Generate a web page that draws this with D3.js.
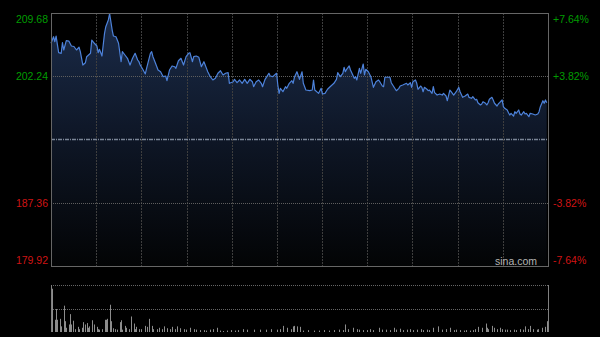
<!DOCTYPE html>
<html>
<head>
<meta charset="utf-8">
<script src="https://cdn.jsdelivr.net/npm/d3@7/dist/d3.min.js"></script>
<style>
  body { margin: 0; background: #000; }
  svg { display: block; font-family: "Liberation Sans", Arial, sans-serif; }
</style>
</head>
<body>
<svg id="chart" width="600" height="337"></svg>
<script>
// intraday minute chart, 390 trading minutes
const prevClose = 194.80;
const priceTicks = [209.68, 202.24, 187.36, 179.92];
const tradingMinutes = 390;
const gridDivisions = 11;
const volumeMax = 100;

// [minute, price]
const priceData = [
  [0,206.12],[2,206.89],[3,206.30],[4,206.97],[6,205.01],[8,204.94],[9,206.19],[10,205.33],[12,206.42],[14,206.38],
  [16,205.80],[18,205.74],[20,205.33],[22,205.65],[23,205.13],[25,203.56],[27,203.83],[28,204.54],[31,204.94],[32,206.50],
  [34,206.12],[36,205.80],[37,205.01],[38,205.41],[40,204.62],[42,207.29],[43,208.07],[45,208.86],[46,209.62],[48,207.68],
  [49,206.97],[51,206.89],[53,206.12],[55,203.95],[56,205.13],[58,204.74],[60,204.35],[62,203.56],[64,204.35],[66,204.94],
  [68,204.15],[69,203.95],[70,203.56],[72,203.06],[74,202.51],[75,203.17],[78,204.94],
  [79,205.13],[80,204.54],[82,203.76],[84,202.97],[86,202.77],[88,202.19],[90,202.27],[91,201.72],[93,202.97],[95,203.45],
  [97,203.36],[98,203.17],[100,204.07],[102,204.35],[103,203.95],[104,203.56],[106,204.54],[108,204.94],[109,205.01],[111,203.95],
  [112,204.54],[114,204.62],[116,204.47],[118,203.36],[120,203.95],[122,203.17],[123,202.77],[125,202.19],[127,201.80],[129,202.00],
  [131,202.59],[133,202.89],[135,202.39],[137,202.59],[139,202.66],[140,201.41],[143,201.60],[144,201.88],[146,201.48],[148,201.80],
  [150,201.41],[152,201.88],[154,201.41],[156,201.88],
  [158,201.60],[159,201.01],[161,201.60],[163,201.80],[165,201.41],[166,201.01],[168,201.88],[171,202.59],[172,202.27],[174,202.19],
  [177,202.59],[178,201.21],[179,200.23],[180,200.82],[182,200.42],[184,201.01],[185,200.82],[187,201.41],[189,201.72],[190,201.41],
  [191,202.12],[193,202.77],[195,201.88],[197,202.77],[198,201.41],[200,200.62],[203,200.54],[205,200.62],[206,201.80],[207,200.62],
  [210,200.23],[212,200.82],[213,200.15],[215,200.23],[217,200.71],[219,201.01],[222,201.41],[224,201.88],[225,202.66],[227,202.19],
  [229,202.59],[230,203.29],[231,202.77],[232,203.06],[234,203.45],
  [235,202.97],[238,202.00],[239,202.19],[240,201.80],[242,203.17],[243,202.59],[245,203.68],[246,202.39],[247,203.06],[249,202.77],
  [251,202.19],[253,200.94],[255,201.60],[257,201.80],[258,201.60],[260,201.09],[261,201.01],[262,202.12],[264,202.12],[266,202.12],
  [267,201.48],[269,201.01],[271,200.54],[273,200.82],[274,201.09],[276,201.21],[279,201.41],[280,201.21],[282,201.48],[283,200.94],
  [284,201.60],[286,201.80],[287,201.41],[288,200.71],[290,201.09],[291,200.94],[292,200.42],[293,200.94],[295,200.71],[296,200.54],
  [297,200.62],[299,200.23],[300,201.01],[301,200.31],[303,200.03],[305,200.15],[307,200.03],[308,200.23],[310,199.92],[311,199.36],
  [313,200.62],[314,200.42],[316,200.03],[317,200.23],[318,200.42],[320,200.94],[321,200.42],[323,199.76],[325,199.92],[327,200.15],
  [328,199.76],[330,199.65],[331,199.83],[333,199.45],[334,199.53],[335,199.13],[337,198.86],[338,198.98],[339,199.25],[341,199.06],
  [342,198.86],[343,199.13],[344,199.53],[346,199.76],[347,199.45],[348,199.06],[350,198.74],[351,198.98],[352,199.13],[354,199.45],
  [355,198.66],[356,198.47],[358,198.27],[359,197.95],[360,197.68],[361,197.88],[363,197.56],[364,198.07],[365,197.88],[367,198.27],
  [368,197.80],[369,197.68],[371,198.07],[372,197.80],[373,197.88],[375,197.48],[376,197.88],[378,197.80],[380,197.68],[382,197.80],
  [383,198.07],[384,198.66],[386,199.36],[387,199.06],[388,199.45],[389,199.13]
];

// [minute, volume] (relative, 100 = panel top)
const volumeData = [
  [0,100],[1,92],[3,26],[4,49],[5,26],[7,28],[8,12],[10,56],[11,23],[12,9],[14,16],[15,38],[16,16],[17,24],[19,6],
  [21,11],[22,6],[24,9],[25,21],[27,16],[28,19],[29,9],[30,12],[32,25],[34,16],[36,11],[37,6],[38,5],[40,6],[42,26],
  [43,26],[44,28],[46,58],[47,23],[49,8],[50,6],[52,5],[54,21],[55,25],[56,5],[58,13],[59,9],[61,6],[63,33],[65,18],
  [66,6],[67,11],[69,6],[71,6],[74,13],[75,11],[77,28],[79,13],[80,6],[83,6],[85,9],[87,6],[89,12],[91,8],[93,6],
  [95,11],[97,6],[99,12],[101,8],[104,6],[106,5],[109,9],[112,6],[114,5],[117,4],[120,4],[122,3],[125,5],[127,6],[130,9],
  [133,3],[135,2],[138,3],[141,4],[144,3],[147,4],[151,6],[154,5],[159,5],[164,5],[169,5],[173,6],[177,5],[180,6],[182,13],
  [185,9],[188,6],[190,12],[191,13],[193,12],[195,11],[198,3],[202,4],[206,3],[210,3],[214,4],[218,3],[222,4],[226,5],[229,4],
  [231,16],[233,6],[237,9],[240,6],[242,5],[245,4],[248,4],[250,6],[253,4],[257,9],[260,5],[263,5],[266,4],[269,9],[271,5],
  [274,7],[276,4],[279,5],[282,6],[284,4],[287,5],[290,6],[292,4],[295,5],[297,4],[300,9],[304,12],[307,5],[310,6],[313,9],
  [316,4],[318,5],[321,4],[324,3],[326,4],[329,3],[331,4],[333,6],[335,11],[338,9],[341,18],[342,9],[343,6],[346,13],[348,9],
  [350,6],[352,9],[354,6],[356,5],[358,5],[360,4],[363,5],[365,4],[368,6],[370,5],[372,12],[374,6],[376,13],[378,6],[381,5],
  [382,6],[385,9],[388,11],[389,23]
];

const cfg = {
  left: 51, top: 13, width: 497, height: 253,
  volTop: 285, volHeight: 47,
  lineColor: "#4d82da",
  upColor: "#009c00",
  downColor: "#d01414",
  borderColor: "#666",
  gridColor: "#3e3e3e"
};
const bottom = cfg.top + cfg.height;
const right = cfg.left + cfg.width;
const volBottom = cfg.volTop + cfg.volHeight;

const xScale = d3.scaleLinear().domain([0, tradingMinutes]).range([cfg.left, right]);
const yScale = d3.scaleLinear().domain(d3.extent(priceTicks)).range([bottom, cfg.top]);
const gridScale = d3.scaleLinear().domain([0, gridDivisions]).range([cfg.left, right]);
const volScale = d3.scaleLinear().domain([0, volumeMax]).range([volBottom, cfg.volTop]);

const svg = d3.select("#chart");
svg.append("rect").attr("width", 600).attr("height", 337).attr("fill", "#000");

const defs = svg.append("defs");
const grad = defs.append("linearGradient")
  .attr("id", "areaFill")
  .attr("gradientUnits", "userSpaceOnUse")
  .attr("x1", 0).attr("y1", cfg.top).attr("x2", 0).attr("y2", bottom);
grad.append("stop").attr("offset", 0).attr("stop-color", "#1b2c4a");
grad.append("stop").attr("offset", 0.45).attr("stop-color", "#0f1829");
grad.append("stop").attr("offset", 1).attr("stop-color", "#030405");

const area = d3.area()
  .x(d => xScale(d[0]))
  .y0(bottom)
  .y1(d => yScale(d[1]));
svg.append("path").datum(priceData)
  .attr("d", area)
  .attr("fill", "url(#areaFill)");

// vertical grid
svg.append("g").selectAll("line")
  .data(d3.range(1, gridDivisions))
  .join("line")
  .attr("x1", d => Math.round(gridScale(d)) + 0.5)
  .attr("x2", d => Math.round(gridScale(d)) + 0.5)
  .attr("y1", cfg.top).attr("y2", bottom)
  .attr("stroke", cfg.gridColor)
  .attr("stroke-dasharray", "2,1");

// horizontal grid
svg.append("g").selectAll("line")
  .data(priceTicks.slice(1, -1))
  .join("line")
  .attr("x1", cfg.left).attr("x2", right)
  .attr("y1", d => Math.round(yScale(d)) + 0.5)
  .attr("y2", d => Math.round(yScale(d)) + 0.5)
  .attr("stroke", "#5e5e5e")
  .attr("stroke-dasharray", "1,1");

// previous close line
svg.append("line")
  .attr("x1", cfg.left).attr("x2", right)
  .attr("y1", Math.round(yScale(prevClose)) + 0.5)
  .attr("y2", Math.round(yScale(prevClose)) + 0.5)
  .attr("stroke", "#7a8596")
  .attr("stroke-width", 1.3)
  .attr("stroke-dasharray", "4,1,1,1");

const line = d3.line()
  .x(d => xScale(d[0]))
  .y(d => yScale(d[1]));
svg.append("path").datum(priceData)
  .attr("d", line)
  .attr("fill", "none")
  .attr("stroke", cfg.lineColor)
  .attr("stroke-width", 1.2)
  .attr("stroke-linejoin", "round");

svg.append("rect")
  .attr("x", cfg.left + 0.5).attr("y", cfg.top + 0.5)
  .attr("width", cfg.width).attr("height", cfg.height)
  .attr("fill", "none")
  .attr("stroke", cfg.borderColor);

// labels
const labelY = d => Math.min(bottom - 6, Math.max(cfg.top + 6, yScale(d)));
const labelColor = d => d > prevClose ? cfg.upColor : cfg.downColor;
const pct = d => {
  const v = (d - prevClose) / prevClose * 100;
  return (v > 0 ? "+" : "") + v.toFixed(2) + "%";
};

svg.append("g").selectAll("text")
  .data(priceTicks)
  .join("text")
  .attr("x", cfg.left - 3)
  .attr("y", labelY)
  .attr("dy", "0.36em")
  .attr("text-anchor", "end")
  .attr("font-size", 10.5)
  .attr("fill", labelColor)
  .text(d => d.toFixed(2));

svg.append("g").selectAll("text")
  .data(priceTicks)
  .join("text")
  .attr("x", right + 5)
  .attr("y", labelY)
  .attr("dy", "0.36em")
  .attr("font-size", 10.5)
  .attr("fill", labelColor)
  .text(pct);

svg.append("text")
  .attr("x", right - 11)
  .attr("y", bottom - 5)
  .attr("dy", "0.36em")
  .attr("text-anchor", "end")
  .attr("font-size", 10.5)
  .attr("fill", "#b4b4b4")
  .text("sina.com");

// volume panel
svg.append("g").selectAll("line")
  .data([volumeMax, volumeMax / 2])
  .join("line")
  .attr("x1", cfg.left).attr("x2", right)
  .attr("y1", d => Math.round(volScale(d)) + 0.5)
  .attr("y2", d => Math.round(volScale(d)) + 0.5)
  .attr("stroke", "#666")
  .attr("stroke-dasharray", "1,1");

svg.append("g").selectAll("line")
  .data(volumeData)
  .join("line")
  .attr("x1", d => Math.round(xScale(d[0])) + 0.5)
  .attr("x2", d => Math.round(xScale(d[0])) + 0.5)
  .attr("y1", volBottom)
  .attr("y2", d => volScale(d[1]))
  .attr("stroke", "#8c8c8c")
  .attr("stroke-width", 1);

svg.append("line")
  .attr("x1", right + 0.5).attr("x2", right + 0.5)
  .attr("y1", cfg.volTop).attr("y2", volBottom)
  .attr("stroke", "#808080");
svg.append("line")
  .attr("x1", cfg.left + 0.5).attr("x2", cfg.left + 0.5)
  .attr("y1", cfg.volTop).attr("y2", volBottom)
  .attr("stroke", "#808080");
</script>
</body>
</html>
